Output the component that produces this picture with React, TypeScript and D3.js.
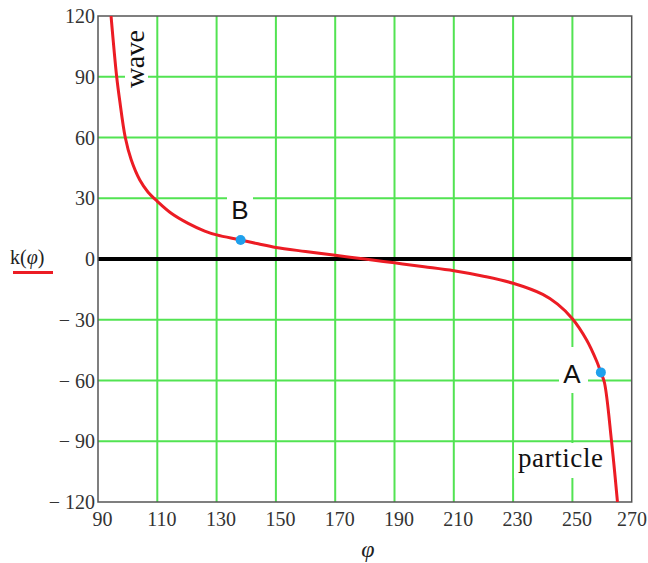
import React from "react";
import * as d3 from "d3";

// Curve k(φ)
const phiValues = [94.4, 96.3, 97.3, 99.2, 101.2, 104.1, 106.9, 110, 114.7, 120.4, 126, 130, 138.1, 144, 150, 160, 170, 180, 190, 200, 210, 220, 230, 240, 245, 250, 254.8, 258.2, 259.6, 260.8, 263.2, 265.2];
const kValues = [120, 90, 78.5, 60, 49, 39, 33, 28.5, 22.6, 17.6, 13.8, 11.9, 9.4, 7.5, 5.7, 3.7, 1.8, 0, -1.9, -3.8, -5.8, -8.5, -12, -17.5, -22.3, -29.5, -40, -50.5, -56, -61, -90, -120];

// Marked points
const pointLabels = ["B", "A"];
const pointPhi = [138.1, 259.6];
const pointK = [9.4, -56];

const xTicks = [90, 110, 130, 150, 170, 190, 210, 230, 250, 270];
const yTicks = [-120, -90, -60, -30, 0, 30, 60, 90, 120];

const W = 648;
const H = 563;

export default function App() {
  const x = d3.scaleLinear().domain([90, 270]).range([98, 631.7]);
  const y = d3.scaleLinear().domain([-120, 120]).range([502, 16]);
  const data = phiValues.map((p, i) => [p, kValues[i]] as [number, number]);
  const line = d3
    .line<[number, number]>()
    .x((d) => x(d[0]))
    .y((d) => y(d[1]))
    .curve(d3.curveCatmullRom.alpha(0.5));

  const green = "#52e352";
  const serif = "'Liberation Serif', 'DejaVu Serif', serif";
  const sans = "'Liberation Sans', Arial, sans-serif";
  const fmt = (v: number) => (v < 0 ? "\u2212 " + Math.abs(v) : String(v));

  return (
    <svg
      width={W}
      height={H}
      viewBox={`0 0 ${W} ${H}`}
      style={{ position: "absolute", left: 0, top: 0, background: "#fff" }}
    >
      <defs>
        <clipPath id="plot">
          <rect x={x(90)} y={y(120)} width={x(270) - x(90)} height={y(-120) - y(120)} />
        </clipPath>
      </defs>
      <rect width={W} height={H} fill="#fff" />
      {/* grid */}
      {xTicks.slice(1, -1).map((t) => (
        <line key={"gx" + t} x1={x(t)} x2={x(t)} y1={y(120)} y2={y(-120)} stroke={green} strokeWidth={2} />
      ))}
      {yTicks.slice(1, -1).filter((t) => t !== 0).map((t) => (
        <line key={"gy" + t} x1={x(90)} x2={x(270)} y1={y(t)} y2={y(t)} stroke={green} strokeWidth={2} />
      ))}
      {/* white label boxes */}
      <rect x={125} y={28} width={23} height={62} fill="#fff" />
      <rect x={227} y={190} width={26} height={35} fill="#fff" />
      <rect x={559} y={347} width={29} height={46} fill="#fff" />
      <rect x={514} y={443} width={92} height={35} fill="#fff" />
      {/* zero line */}
      <line x1={x(90)} x2={x(270)} y1={y(0)} y2={y(0)} stroke="#000" strokeWidth={4} />
      {/* frame */}
      <rect
        x={x(90)}
        y={y(120)}
        width={x(270) - x(90)}
        height={y(-120) - y(120)}
        fill="none"
        stroke="#555"
        strokeWidth={1.5}
      />
      {/* curve */}
      <path d={line(data) || ""} fill="none" stroke="#ec1c24" strokeWidth={3} clipPath="url(#plot)" />
      {/* markers */}
      {pointPhi.map((p, i) => (
        <circle key={"pt" + i} cx={x(p)} cy={y(pointK[i])} r={5} fill="#1fa0ec" />
      ))}
      {/* labels */}
      <text x={240} y={219} fontFamily={sans} fontSize={26} textAnchor="middle" fill="#111">
        {pointLabels[0]}
      </text>
      <text x={572} y={383} fontFamily={sans} fontSize={26} textAnchor="middle" fill="#111">
        {pointLabels[1]}
      </text>
      <text
        transform="translate(144,59) rotate(-90)"
        fontFamily={serif}
        fontSize={28}
        textAnchor="middle"
        textLength={58}
        fill="#111"
      >
        wave
      </text>
      <text x={518} y={467} fontFamily={serif} fontSize={27} textLength={85} fill="#111">
        particle
      </text>
      {/* y tick labels */}
      {yTicks.map((t) => (
        <text
          key={"ty" + t}
          x={95}
          y={y(t)}
          dy="0.35em"
          textAnchor="end"
          fontFamily={serif}
          fontSize={20}
          fill="#333"
        >
          {fmt(t)}
        </text>
      ))}
      {/* x tick labels */}
      {xTicks.map((t, i) => (
        <text
          key={"tx" + t}
          x={i === xTicks.length - 1 ? 647 : x(t) + 4.5}
          y={526}
          textAnchor={i === xTicks.length - 1 ? "end" : "middle"}
          fontFamily={serif}
          fontSize={20}
          fill="#333"
        >
          {t}
        </text>
      ))}
      {/* axis titles */}
      <text x={368} y={557} textAnchor="middle" fontFamily={serif} fontStyle="italic" fontSize={24} fill="#222">
        φ
      </text>
      <text x={10} y={264} fontFamily={serif} fontSize={20} fill="#222">
        k(<tspan fontStyle="italic">φ</tspan>)
      </text>
      <line x1={13} x2={53} y1={272.5} y2={272.5} stroke="#ec1c24" strokeWidth={3} />
    </svg>
  );
}
